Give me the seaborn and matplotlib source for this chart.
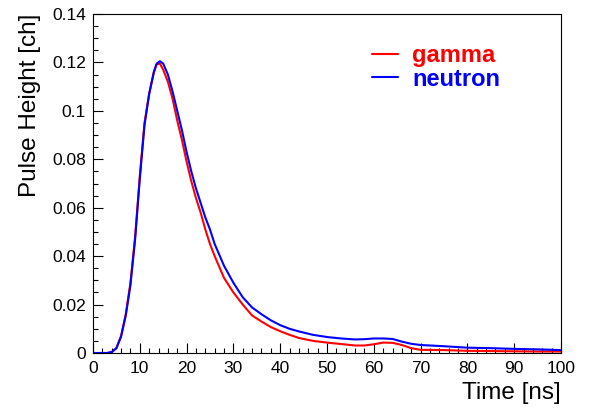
import numpy as np
import pandas as pd
import matplotlib
matplotlib.use("Agg")
import matplotlib.pyplot as plt
import seaborn as sns
from matplotlib.ticker import MultipleLocator
from matplotlib.lines import Line2D

time_ns = [0, 2, 3, 4, 5, 6, 7, 8, 9, 10, 11, 12, 13, 13.6, 14.3, 15, 16, 17, 18, 19, 20,
           21, 22, 23, 24, 25, 26, 28, 30, 32, 34, 36, 38, 40, 42, 44, 47, 50, 53,
           56, 58, 60, 62, 64, 66, 68, 70, 75, 80, 85, 90, 95, 100]
gamma = [0, 0, 0, 0.0004, 0.002, 0.007, 0.016, 0.029, 0.048, 0.073, 0.095, 0.107, 0.116,
         0.1192, 0.1195, 0.117, 0.112, 0.105, 0.096, 0.088, 0.079, 0.071, 0.064, 0.058, 0.051,
         0.045, 0.040, 0.031, 0.025, 0.020, 0.0155, 0.013, 0.0107, 0.009, 0.0075, 0.0062,
         0.005, 0.0043, 0.0037, 0.0031, 0.0031, 0.0036, 0.0043, 0.0042, 0.0033, 0.002,
         0.0013, 0.0012, 0.0009, 0.0008, 0.0007, 0.0006, 0.0006]
neutron = [0, 0, 0, 0.0004, 0.002, 0.0068, 0.0155, 0.028, 0.047, 0.072, 0.094, 0.107, 0.116,
           0.1195, 0.1205, 0.1195, 0.115, 0.108, 0.100, 0.092, 0.083, 0.075, 0.068, 0.062, 0.056,
           0.051, 0.045, 0.036, 0.029, 0.023, 0.0188, 0.016, 0.0135, 0.0115, 0.010, 0.0089,
           0.0075, 0.0066, 0.006, 0.0056, 0.0057, 0.006, 0.006, 0.0058, 0.0047, 0.0038,
           0.0033, 0.0028, 0.0022, 0.002, 0.0017, 0.0015, 0.0012]
series = ["gamma", "neutron"]
colors = {"gamma": "#ff0000", "neutron": "#0000ff"}
xtick_labels = [str(v) for v in range(0, 101, 10)]
ytick_labels = ["0", "0.02", "0.04", "0.06", "0.08", "0.1", "0.12", "0.14"]

df = pd.concat([
    pd.DataFrame({"t": time_ns, "v": gamma, "s": "gamma"}),
    pd.DataFrame({"t": time_ns, "v": neutron, "s": "neutron"}),
])

sns.set_style("white")
plt.rcParams['font.family'] = ['Liberation Sans', 'DejaVu Sans']

fig = plt.figure(figsize=(5.89, 4.09), dpi=100)
ax = fig.add_axes([93/589, 1-353/409, (561-93)/589, (353-14)/409])
sns.lineplot(data=df, x="t", y="v", hue="s", palette=colors, hue_order=series,
             linewidth=1.5, ax=ax, legend=False)

ax.set_xlim(0, 100)
ax.set_ylim(0, 0.14)
ax.set_xticks(np.arange(0, 101, 10))
ax.set_xticklabels(xtick_labels)
ax.set_yticks(np.arange(0, 0.141, 0.02))
ax.set_yticklabels(ytick_labels)
ax.xaxis.set_minor_locator(MultipleLocator(2))
ax.yaxis.set_minor_locator(MultipleLocator(0.005))
ax.tick_params(which="both", direction="in", bottom=True, left=True, top=False, right=False,
               labelsize=12.5, color="black", labelcolor="black", width=0.8)
ax.tick_params(which="major", length=7.5)
ax.tick_params(axis="x", which="major", pad=6)
ax.tick_params(axis="y", which="major", pad=5)
ax.tick_params(which="minor", length=3.8)
for sp in ax.spines.values():
    sp.set_color("black")
    sp.set_linewidth(0.8)

ax.set_xlabel("Time [ns]", fontsize=17.5, loc="right", labelpad=4, color="black")
ax.set_ylabel("Pulse Height [ch]", fontsize=17.5, loc="top", labelpad=8, color="black")

handles = [Line2D([], [], color=colors[s], linewidth=1.5) for s in series]
leg = fig.legend(handles, series, loc="upper left", bbox_to_anchor=(372/589, 1-44/409),
                 frameon=False, prop={"weight": "bold", "size": 17},
                 handlelength=1.1, handletextpad=0.6, labelspacing=0.03,
                 borderpad=0, borderaxespad=0)
for txt, s in zip(leg.get_texts(), series):
    txt.set_color(colors[s])

fig.savefig("out.png", dpi=100, facecolor="white")
